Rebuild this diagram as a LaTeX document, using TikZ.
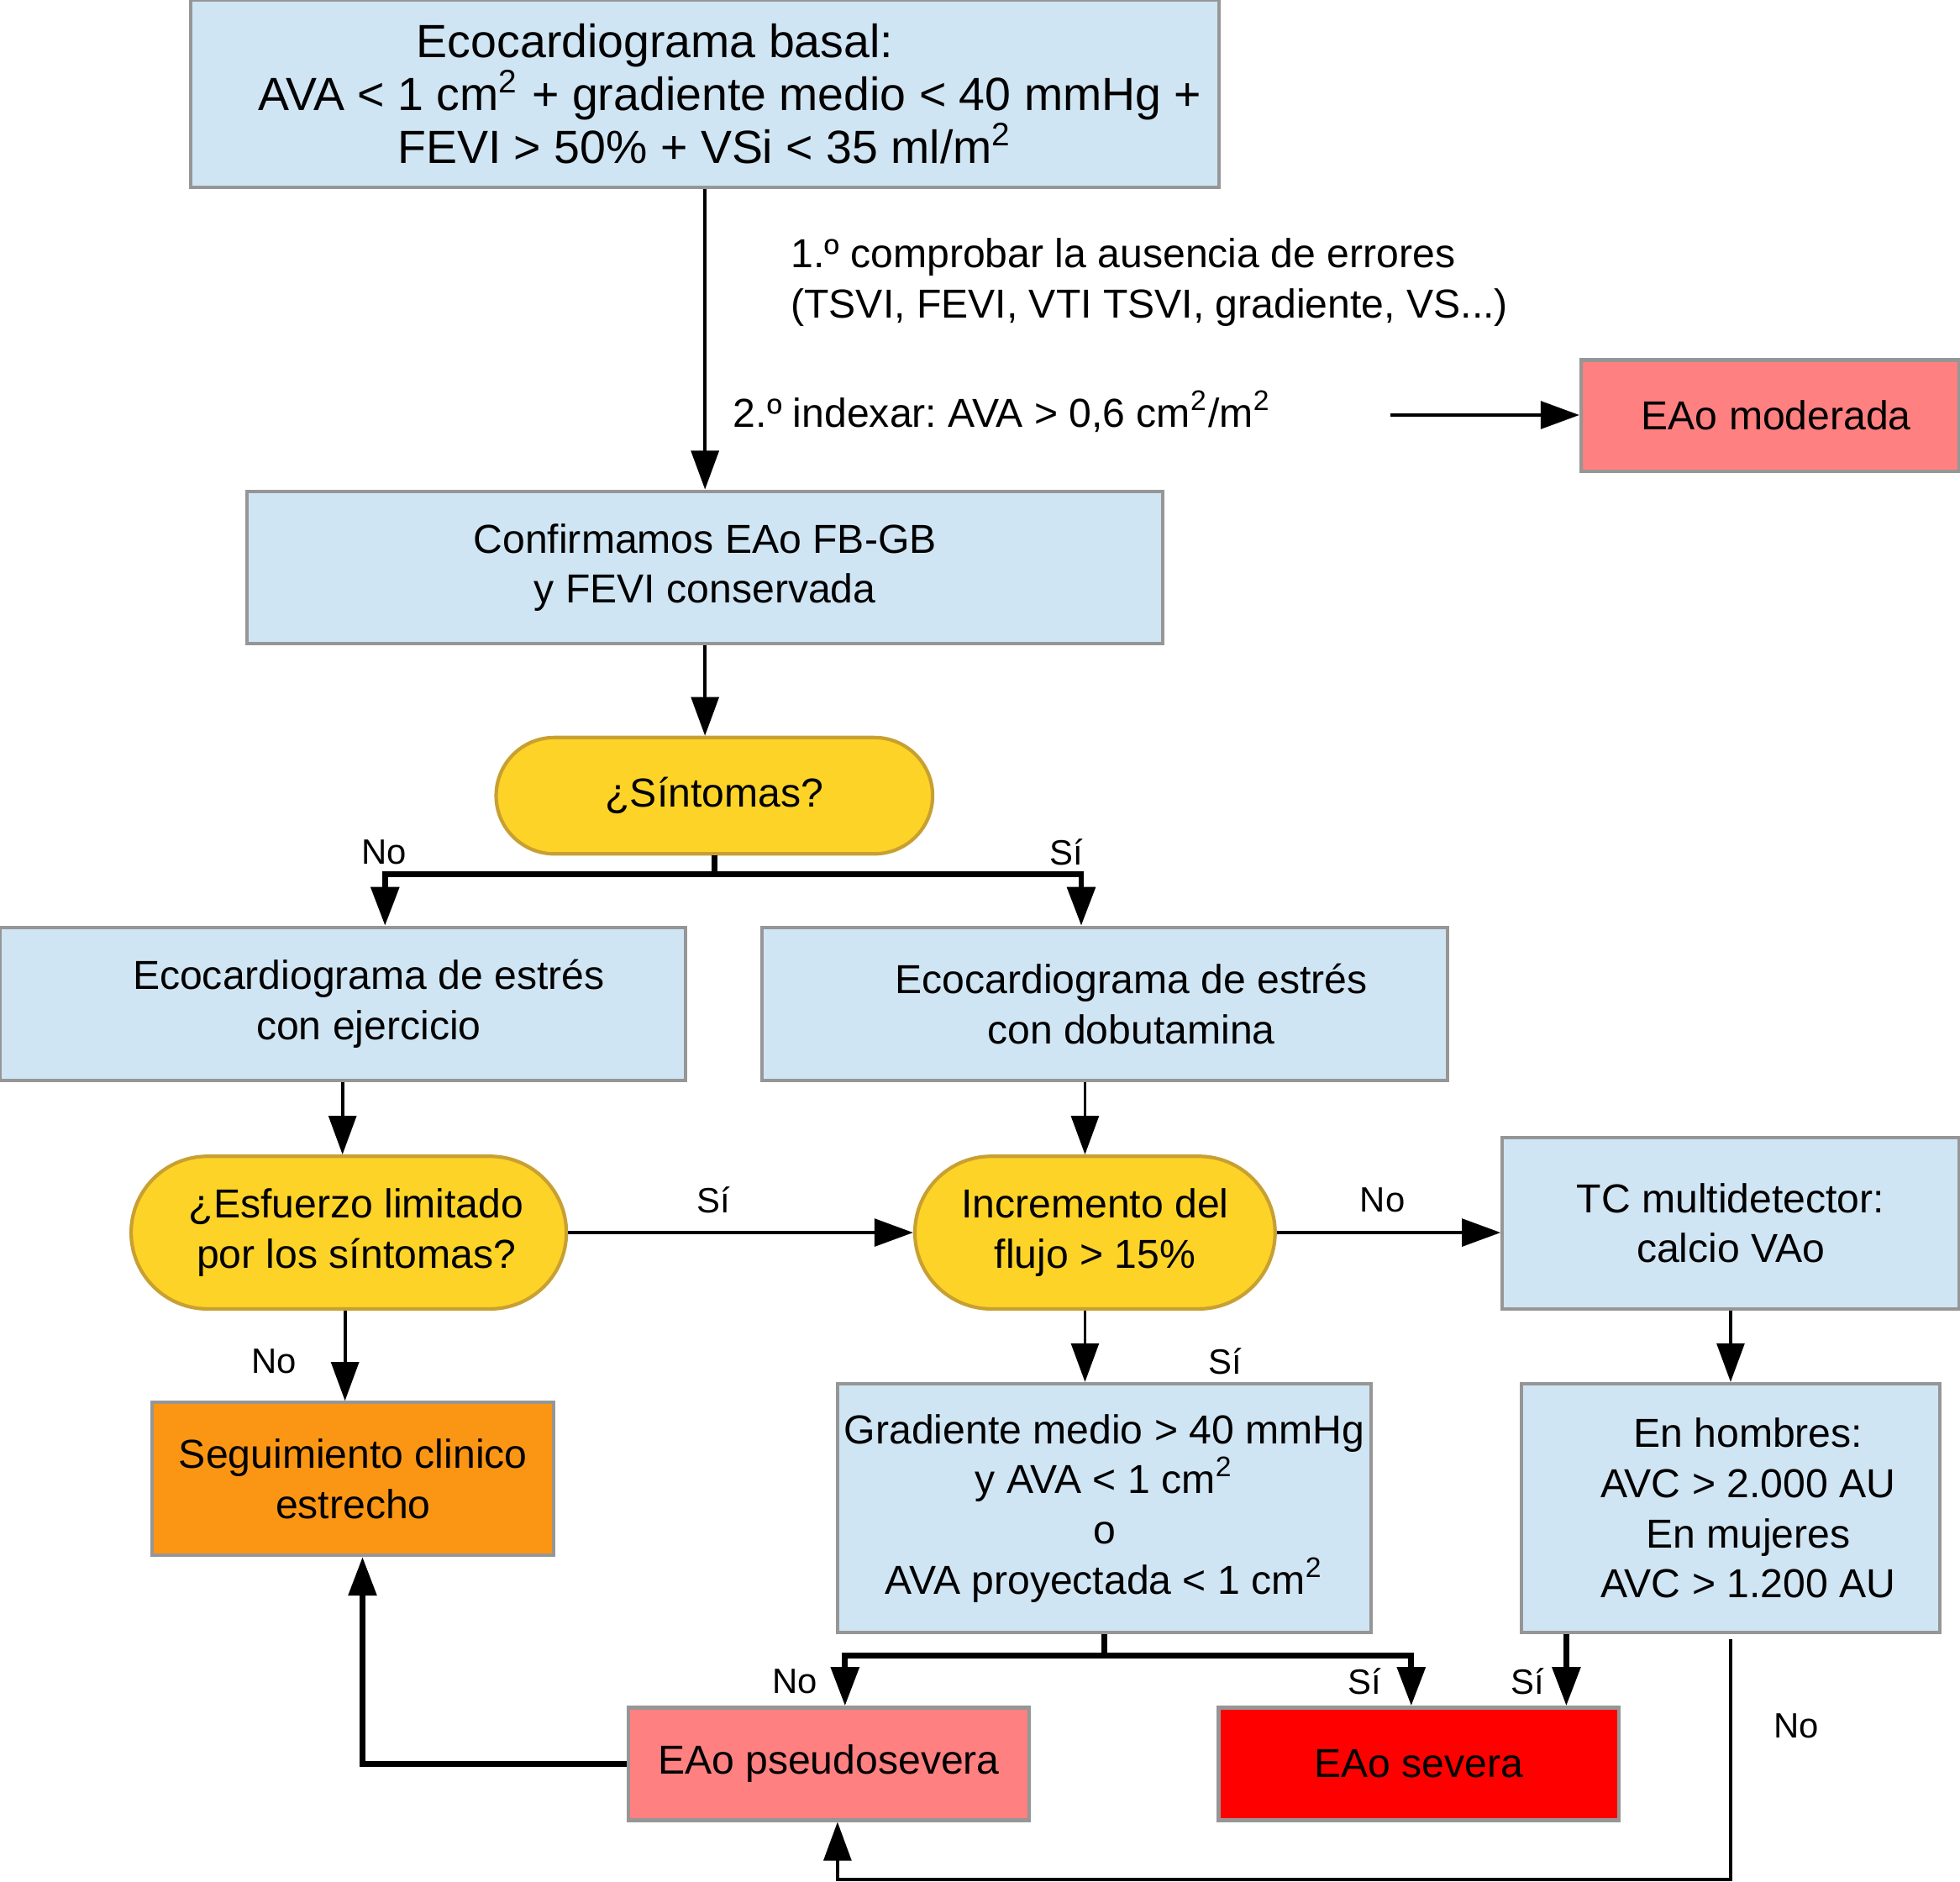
\documentclass[tikz,border=0pt]{standalone}
\usepackage{fontspec}
\setmainfont{Liberation Sans}
\usepackage{tikz}
\usetikzlibrary{positioning,arrows.meta,shapes.misc}

\definecolor{boxblue}{RGB}{208,229,243}
\definecolor{boxgray}{RGB}{150,150,150}
\definecolor{decyellow}{RGB}{253,211,39}
\definecolor{decborder}{RGB}{200,160,50}
\definecolor{segorange}{RGB}{250,150,20}
\definecolor{salmon}{RGB}{255,128,128}
\definecolor{severred}{RGB}{255,0,0}

\newcommand{\nodefont}{\fontsize{9.2}{11.4}\selectfont}
\newcommand{\topfont}{\fontsize{10.6}{12.1}\selectfont}
\newcommand{\lblfont}{\fontsize{8}{9.6}\selectfont}

\tikzset{
  flowbox/.style={draw=boxgray, line width=0.8pt, fill=boxblue, align=center, inner sep=0pt, font=\nodefont},
  flowstad/.style={rounded rectangle, draw=decborder, line width=0.8pt, fill=decyellow, align=center, inner sep=0pt, font=\nodefont},
  arr/.style={line width=0.75pt, -{Triangle[length=3.1mm, width=2.2mm]}},
  tarr/.style={line width=1.3pt, -{Triangle[length=3.1mm, width=2.2mm]}},
  tline/.style={line width=1.3pt},
  lbl/.style={font=\lblfont, inner sep=0pt},
  note/.style={font=\nodefont, inner sep=0pt, align=left, anchor=west}
}

\frenchspacing

\begin{document}
\begin{tikzpicture}[x=0.01cm, y=-0.01cm]

    \useasboundingbox (0,0) rectangle (1568,1505);

    % boxes
    \node[flowbox, font=\topfont, minimum width=8.22cm, minimum height=1.5cm] (basal) at (564,75)
        {Ecocardiograma basal:\hspace{0.8cm}\mbox{}\\ \mbox{}\hspace{0.4cm}AVA < 1 cm\textsuperscript{2} + gradiente medio < 40 mmHg +\\ FEVI > 50\% + VSi < 35 ml/m\textsuperscript{2}};
    \node[flowbox, minimum width=7.32cm, minimum height=1.22cm] (confirm) at (564,454)
        {Confirmamos EAo FB-GB\\ y FEVI conservada};
    \node[flowbox, fill=salmon, minimum width=3.02cm, minimum height=0.89cm] (moderada) at (1416,332.5)
        {\mbox{}\hspace{0.1cm}EAo moderada};
    \node[flowstad, minimum width=3.49cm, minimum height=0.93cm] (sintomas) at (571.5,636.5)
        {¿Síntomas?};
    \node[flowbox, minimum width=5.48cm, minimum height=1.22cm] (ejercicio) at (274,803)
        {\mbox{}\hspace{0.42cm}Ecocardiograma de estrés\\ \mbox{}\hspace{0.42cm}con ejercicio};
    \node[flowbox, minimum width=5.48cm, minimum height=1.22cm] (dobutamina) at (884,803)
        {\mbox{}\hspace{0.42cm}Ecocardiograma de estrés\\ \mbox{}\hspace{0.42cm}con dobutamina};
    \node[flowstad, minimum width=3.48cm, minimum height=1.22cm] (esfuerzo) at (279,986)
        {\mbox{}\hspace{0.12cm}¿Esfuerzo limitado\\ \mbox{}\hspace{0.12cm}por los síntomas?};
    \node[flowstad, minimum width=2.88cm, minimum height=1.22cm] (incremento) at (876,986)
        {Incremento del\\ flujo > 15\%};
    \node[flowbox, minimum width=3.65cm, minimum height=1.37cm] (tc) at (1384.5,978.5)
        {TC multidetector:\\ calcio VAo};
    \node[flowbox, fill=segorange, minimum width=3.21cm, minimum height=1.22cm] (seguimiento) at (282.5,1183)
        {Seguimiento clinico\\ estrecho};
    \node[flowbox, minimum width=4.27cm, minimum height=1.99cm] (gradiente) at (883.5,1206.5)
        {Gradiente medio > 40 mmHg\\ y AVA < 1 cm\textsuperscript{2}\\ o\\ AVA proyectada < 1 cm\textsuperscript{2}};
    \node[flowbox, minimum width=3.35cm, minimum height=1.99cm] (hombres) at (1384.5,1206.5)
        {\mbox{}\hspace{0.28cm}En hombres:\\ \mbox{}\hspace{0.28cm}AVC > 2.000 AU\\ \mbox{}\hspace{0.28cm}En mujeres\\ \mbox{}\hspace{0.28cm}AVC > 1.200 AU};
    \node[flowbox, fill=salmon, minimum width=3.2cm, minimum height=0.9cm] (pseudo) at (663,1411)
        {EAo pseudosevera};
    \node[flowbox, fill=severred, minimum width=3.2cm, minimum height=0.9cm] (severa) at (1135,1411)
        {EAo severa};

    % notes on the first arrow
    \node[note] (paso1) at (632,226) {1.º comprobar la ausencia de errores\\ (TSVI, FEVI, VTI TSVI, gradiente, VS...)};
    \node[note] (paso2) at (586,329) {2.º indexar: AVA > 0,6 cm\textsuperscript{2}/m\textsuperscript{2}};
    \coordinate (modin) at (1112,332);

    % connectors
    \draw[arr] (basal.south) -- (confirm.north);
    \draw[arr] (modin) -- (modin -| moderada.west);
    \draw[arr] (confirm.south) -- (confirm.south |- sintomas.north);

    \draw[tline] (sintomas.south) -- ++(0,15) coordinate (symsplit);
    \draw[tarr] (symsplit) -| ([xshift=0.34cm]ejercicio.north);
    \draw[tarr] (symsplit) -| ([xshift=-0.19cm]dobutamina.north);
    \node[lbl] (lno1) at (307,682) {No};
    \node[lbl] (lsi1) at (853,682) {Sí};

    \draw[arr] (ejercicio.south) -- (ejercicio.south |- esfuerzo.north);
    \draw[arr] ([xshift=-0.08cm]dobutamina.south -| incremento.north) -- ([xshift=-0.08cm]incremento.north);

    \draw[arr] (esfuerzo.east) -- (incremento.west);
    \node[lbl] (lsi2) at (571,960) {Sí};
    \draw[arr] (incremento.east) -- (incremento.east -| tc.west);
    \node[lbl] (lno2) at (1106,960) {No};

    \draw[arr] ([xshift=-0.03cm]esfuerzo.south) -- ([xshift=-0.03cm]esfuerzo.south |- seguimiento.north);
    \node[lbl] (lno3) at (219,1089) {No};
    \draw[arr] ([xshift=-0.08cm]incremento.south) -- ([xshift=-0.08cm]incremento.south |- gradiente.north);
    \node[lbl] (lsi3) at (980,1089) {Sí};
    \draw[arr] (tc.south) -- (hombres.north);

    \draw[tline] (gradiente.south) -- ++(0,17) coordinate (gradsplit);
    \draw[tarr] (gradsplit) -| ([xshift=0.13cm]pseudo.north);
    \draw[tarr] (gradsplit) -| ([xshift=-0.06cm]severa.north);
    \node[lbl] (lno4) at (636,1345) {No};
    \node[lbl] (lsi4) at (1092,1345) {Sí};

    \draw[tarr] ([xshift=1.18cm]severa.north |- hombres.south) -- ([xshift=1.18cm]severa.north);
    \node[lbl] (lsi5) at (1222,1345) {Sí};

    \draw[arr] ([yshift=-0.04cm]hombres.south) -- ++(0,192) -| ([xshift=0.07cm]pseudo.south);
    \node[lbl] (lno5) at (1437,1381) {No};

    \draw[tarr] (pseudo.west) -| ([xshift=0.075cm]seguimiento.south);

\end{tikzpicture}
\end{document}
